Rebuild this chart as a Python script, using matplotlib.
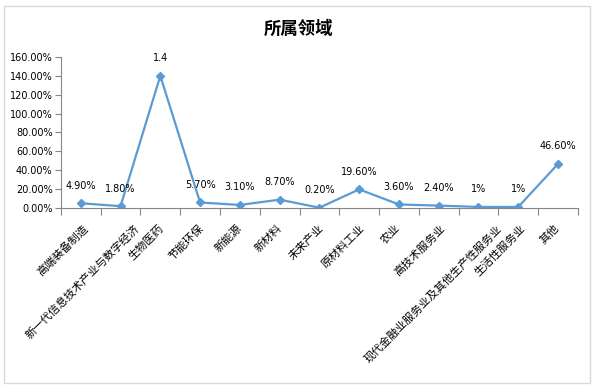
import matplotlib.pyplot as plt
import numpy as np
from matplotlib.patches import Rectangle
from matplotlib.transforms import ScaledTranslation

plt.rcParams['font.family'] = ['Noto Sans CJK SC', 'DejaVu Sans']

# Categories and values (share of each field)
categories = ['高端装备制造', '新一代信息技术产业与数字经济', '生物医药', '节能环保', '新能源',
              '新材料', '未来产业', '原材料工业', '农业', '高技术服务业',
              '现代金融业服务业及其他生产性服务业', '生活性服务业', '其他']
values = [0.049, 0.018, 1.4, 0.057, 0.031, 0.087, 0.002, 0.196, 0.036, 0.024, 0.01, 0.01, 0.466]
point_labels = ['4.90%', '1.80%', '1.4', '5.70%', '3.10%', '8.70%', '0.20%', '19.60%',
                '3.60%', '2.40%', '1%', '1%', '46.60%']
y_ticks = [0, 0.2, 0.4, 0.6, 0.8, 1.0, 1.2, 1.4, 1.6]

fig = plt.figure(figsize=(5.97, 3.90), dpi=100)
# light grey frame round the whole chart
fig.patches.append(Rectangle((0.006, 0.018), 0.983, 0.966, transform=fig.transFigure,
                             fill=False, edgecolor='#d9d9d9', linewidth=1))

ax = fig.add_axes([0.102, 0.467, 0.866, 0.387])
x = np.arange(len(categories))
ax.plot(x, values, color='#5b9bd5', linewidth=1.6, marker='D', markersize=4,
        markerfacecolor='#5b9bd5', markeredgecolor='#5b9bd5')

for xi, v, lab in zip(x, values, point_labels):
    ax.annotate(lab, (xi, v), xytext=(0, 9), textcoords='offset points',
                ha='center', va='bottom', fontsize=7, family='DejaVu Sans')

ax.set_xlim(-0.5, len(categories) - 0.5)
ax.set_ylim(0, 1.6)
ax.set_yticks(y_ticks)
ax.set_yticklabels([f'{t * 100:.2f}%' for t in y_ticks], fontsize=7, family='DejaVu Sans')

# ticks between categories
ax.set_xticks(np.arange(len(categories) + 1) - 0.5)
ax.set_xticklabels([])
ax.tick_params(axis='x', length=5, color='#868686')
ax.tick_params(axis='y', length=4, color='#868686', pad=2)

# slanted category labels; Excel pushes longer ones further right
for xi, name in zip(x, categories):
    dx = 1.5 * (len(name) - 5) / 100
    tr = ax.get_xaxis_transform() + ScaledTranslation(dx, -0.15, fig.dpi_scale_trans)
    ax.text(xi, 0, name, transform=tr, rotation=45, ha='right', va='top',
            rotation_mode='anchor', fontsize=8)

for side in ['top', 'right']:
    ax.spines[side].set_visible(False)
for side in ['left', 'bottom']:
    ax.spines[side].set_color('#868686')

fig.text(0.5, 0.925, '所属领域', ha='center', va='center', fontsize=12.5, fontweight='bold')

fig.savefig('out.png', dpi=100)
